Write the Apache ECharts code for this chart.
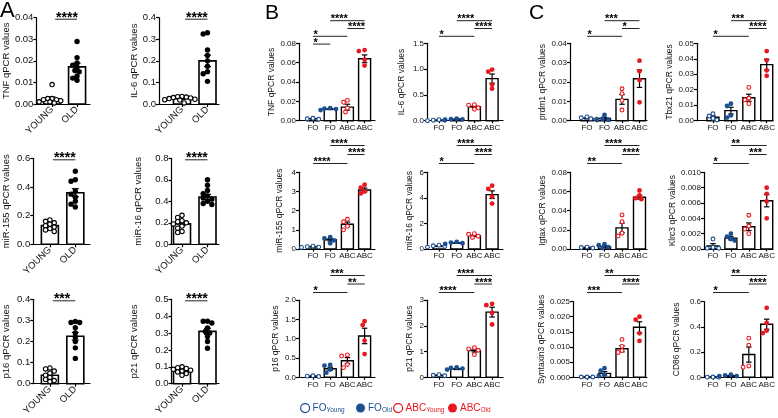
<!DOCTYPE html>
<html><head><meta charset="utf-8">
<script src="https://cdn.jsdelivr.net/npm/echarts@6/dist/echarts.min.js"></script>
<style>html,body{margin:0;padding:0;background:#fff}#c{width:778px;height:418px}</style>
</head><body><div id="c"></div>
<script>
// ---------- DATA ----------
const A_groups = ['YOUNG', 'OLD'];
const BC_groups = ['FO', 'FO', 'ABC', 'ABC'];
const BC_series = ['FO_Young', 'FO_Old', 'ABC_Young', 'ABC_Old'];

// Panel A
const A_TNF_pts = [[0.009,0.0025,0.0025,0.002,0.002,0.0015,0.001,0.001,0.0005],[0.029,0.0215,0.019,0.018,0.017,0.0155,0.015,0.013,0.012,0.011]];
const A_TNF_mean = [0.0023, 0.0172]; const A_TNF_sem = [0.0009, 0.0017];
const A_TNF_ticks = ['0.00','0.01','0.02','0.03','0.04'];
const A_TNF_sig = [[0,1,'****',0]];

const A_IL6_pts = [[0.035,0.034,0.032,0.03,0.028,0.025,0.022,0.02,0.018,0.005],[0.33,0.325,0.25,0.225,0.2,0.175,0.15,0.14,0.105]];
const A_IL6_mean = [0.025, 0.2]; const A_IL6_sem = [0.003, 0.026];
const A_IL6_ticks = ['0.0','0.1','0.2','0.3','0.4'];
const A_IL6_sig = [[0,1,'****',0]];

const A_miR155_pts = [[0.17,0.16,0.15,0.14,0.13,0.12,0.11,0.1,0.09],[0.51,0.45,0.44,0.37,0.35,0.33,0.3,0.28,0.26]];
const A_miR155_mean = [0.13, 0.36]; const A_miR155_sem = [0.01, 0.028];
const A_miR155_ticks = ['0.0','0.2','0.4','0.6'];
const A_miR155_sig = [[0,1,'****',0]];

const A_miR16_pts = [[0.27,0.25,0.22,0.21,0.2,0.19,0.17,0.15,0.12,0.11],[0.6,0.55,0.5,0.47,0.45,0.43,0.42,0.4,0.38,0.37]];
const A_miR16_mean = [0.19, 0.44]; const A_miR16_sem = [0.017, 0.024];
const A_miR16_ticks = ['0.0','0.2','0.4','0.6','0.8'];
const A_miR16_sig = [[0,1,'****',0]];

const A_p16_pts = [[0.075,0.07,0.06,0.05,0.04,0.03,0.02,0.015,0.01],[0.295,0.29,0.29,0.265,0.24,0.22,0.2,0.17,0.12]];
const A_p16_mean = [0.04, 0.225]; const A_p16_sem = [0.008, 0.018];
const A_p16_ticks = ['0.0','0.1','0.2','0.3','0.4'];
const A_p16_sig = [[0,1,'***',0]];

const A_p21_pts = [[0.1,0.095,0.09,0.085,0.08,0.075,0.07,0.06,0.05],[0.37,0.37,0.36,0.33,0.31,0.3,0.28,0.25,0.21]];
const A_p21_mean = [0.075, 0.31]; const A_p21_sem = [0.005, 0.018];
const A_p21_ticks = ['0.0','0.1','0.2','0.3','0.4','0.5'];
const A_p21_sig = [[0,1,'****',0]];

// Panel B
const B_TNF_pts = [[0.0025,0.0015,0.002],[0.013,0.012,0.0125,0.011],[0.021,0.019,0.013,0.009],[0.073,0.072,0.063,0.057]];
const B_TNF_mean = [0.002,0.012,0.014,0.064]; const B_TNF_sem = [0.0003,0.0005,0.003,0.004];
const B_TNF_ticks = ['0.00','0.02','0.04','0.06','0.08'];
const B_TNF_sig = [[1,3,'****',0],[2,3,'****',1],[0,2,'*',2],[0,1,'*',3]];

const B_IL6_pts = [[0.02,0.01,0.01,0.0],[0.04,0.03,0.025,0.02],[0.31,0.3,0.25,0.22],[0.99,0.95,0.7,0.62]];
const B_IL6_mean = [0.01,0.03,0.27,0.815]; const B_IL6_sem = [0.004,0.004,0.02,0.09];
const B_IL6_ticks = ['0.0','0.5','1.0','1.5'];
const B_IL6_sig = [[1,3,'****',0],[2,3,'****',1],[0,2,'*',2]];

const B_miR155_pts = [[0.15,0.12,0.1,0.08],[0.62,0.55,0.45,0.3],[1.55,1.42,1.18,1.0],[3.35,3.2,3.0,2.9]];
const B_miR155_mean = [0.12,0.48,1.29,3.08]; const B_miR155_sem = [0.015,0.07,0.12,0.1];
const B_miR155_ticks = ['0','1','2','3','4'];
const B_miR155_sig = [[1,3,'****',0],[2,3,'****',1],[0,2,'****',2]];

const B_miR16_pts = [[0.3,0.25,0.2,0.15],[0.55,0.5,0.45,0.4],[1.2,1.15,1.0,0.9],[4.95,4.7,4.1,3.55]];
const B_miR16_mean = [0.22,0.47,1.05,4.25]; const B_miR16_sem = [0.03,0.03,0.07,0.3];
const B_miR16_ticks = ['0','2','4','6'];
const B_miR16_sig = [[1,3,'****',0],[2,3,'****',1],[0,2,'*',2]];

const B_p16_pts = [[0.04,0.03,0.02],[0.32,0.3,0.2,0.12],[0.58,0.55,0.33,0.25],[1.45,1.35,0.95,0.6]];
const B_p16_mean = [0.03,0.22,0.43,1.07]; const B_p16_sem = [0.005,0.04,0.08,0.2];
const B_p16_ticks = ['0.0','0.5','1.0','1.5','2.0'];
const B_p16_sig = [[1,3,'***',0],[2,3,'**',1],[0,2,'*',2]];

const B_p21_pts = [[0.1,0.08,0.06],[0.38,0.36,0.34,0.3],[1.15,1.1,1.05,0.88],[2.85,2.8,2.5,2.05]];
const B_p21_mean = [0.08,0.32,1.04,2.53]; const B_p21_sem = [0.01,0.02,0.06,0.19];
const B_p21_ticks = ['0','1','2','3'];
const B_p21_sig = [[1,3,'****',0],[2,3,'****',1],[0,2,'****',2]];

// Panel C
const C_prdm1_pts = [[0.002,0.0015,0.001,0.0008],[0.003,0.001,0.0005,0.0003],[0.0165,0.014,0.0105,0.0055],[0.031,0.0255,0.021,0.0095]];
const C_prdm1_mean = [0.0012,0.0011,0.011,0.0217]; const C_prdm1_sem = [0.0003,0.0006,0.0025,0.0045];
const C_prdm1_ticks = ['0.00','0.01','0.02','0.03','0.04'];
const C_prdm1_sig = [[1,3,'***',0],[2,3,'*',1],[0,2,'*',2]];

const C_Tbx21_pts = [[0.0045,0.003,0.0015,0.0005],[0.011,0.0095,0.0035,0.002],[0.0215,0.0145,0.0135,0.011],[0.045,0.039,0.0325,0.029]];
const C_Tbx21_mean = [0.0022,0.0065,0.0148,0.0362]; const C_Tbx21_sem = [0.0009,0.0022,0.0023,0.0035];
const C_Tbx21_ticks = ['0.00','0.01','0.02','0.03','0.04','0.05'];
const C_Tbx21_sig = [[1,3,'***',0],[2,3,'****',1],[0,2,'*',2]];

const C_Igtax_pts = [[0.002,0.0015,0.001],[0.005,0.004,0.002,0.001],[0.0355,0.0285,0.0165,0.0135],[0.061,0.056,0.053,0.052]];
const C_Igtax_mean = [0.0015,0.0025,0.022,0.054]; const C_Igtax_sem = [0.0002,0.0009,0.005,0.002];
const C_Igtax_ticks = ['0.00','0.02','0.04','0.06','0.08'];
const C_Igtax_sig = [[1,3,'****',0],[2,3,'****',1],[0,2,'**',2]];

const C_Klrc3_pts = [[0.0013,0.0002,0.0001,0.0001],[0.002,0.0016,0.0013,0.0011],[0.0044,0.003,0.0026,0.002],[0.008,0.0072,0.0062,0.004]];
const C_Klrc3_mean = [0.0004,0.0014,0.0029,0.0063]; const C_Klrc3_sem = [0.0003,0.0002,0.0005,0.0008];
const C_Klrc3_ticks = ['0.000','0.002','0.004','0.006','0.008','0.010'];
const C_Klrc3_sig = [[1,3,'**',0],[2,3,'***',1],[0,2,'*',2]];

const C_Syntaxin3_pts = [[0.0001,0.0001,0.0001],[0.003,0.0022,0.0008,0.0004],[0.0125,0.0102,0.0088,0.0082],[0.02,0.019,0.0145,0.012]];
const C_Syntaxin3_mean = [0.0001,0.0013,0.0094,0.0165]; const C_Syntaxin3_sem = [0.00005,0.0006,0.001,0.0018];
const C_Syntaxin3_ticks = ['0.000','0.005','0.010','0.015','0.020','0.025'];
const C_Syntaxin3_sig = [[1,3,'**',0],[2,3,'****',1],[0,2,'***',2]];

const C_CD86_pts = [[0.002,0.001,0.001],[0.02,0.015,0.01,0.01],[0.31,0.255,0.09,0.08],[0.55,0.43,0.37,0.35]];
const C_CD86_mean = [0.002,0.012,0.18,0.42]; const C_CD86_sem = [0.0005,0.003,0.06,0.04];
const C_CD86_ticks = ['0.0','0.2','0.4','0.6'];
const C_CD86_sig = [[1,3,'**',0],[2,3,'****',1],[0,2,'*',2]];

// ---------- LAYOUT (pixels) ----------
const FONT = '"Liberation Sans", Arial, Helvetica, sans-serif';
const BLUE = '#1c4f91', RED = '#e8161d';
const R1 = {s0: 22.6, st: 7.8}, R2 = {s0: 26.8, st: 9}, R3 = {s0: 24.5, st: 8.5}, R3c = {s0: 26, st: 8.5};
const panels = [
 {kind:'A', title:'TNF qPCR values', pts:A_TNF_pts, mean:A_TNF_mean, sem:A_TNF_sem, ticks:A_TNF_ticks, sig:A_TNF_sig, L:{ax:32, c0:49, sp:27, end:90, top:17.7, bot:104, nameX:5}},
 {kind:'A', title:'IL-6 qPCR values', pts:A_IL6_pts, mean:A_IL6_mean, sem:A_IL6_sem, ticks:A_IL6_ticks, sig:A_IL6_sig, L:{ax:159, c0:182, sp:25.5, end:219, top:17.7, bot:104, nameX:137}},
 {kind:'A', title:'miR-155 qPCR values', pts:A_miR155_pts, mean:A_miR155_mean, sem:A_miR155_sem, ticks:A_miR155_ticks, sig:A_miR155_sig, L:{ax:32, c0:49, sp:26, end:90, top:158.3, bot:244.3, nameX:5}},
 {kind:'A', title:'miR-16 qPCR values', pts:A_miR16_pts, mean:A_miR16_mean, sem:A_miR16_sem, ticks:A_miR16_ticks, sig:A_miR16_sig, L:{ax:171.5, c0:182, sp:25.5, end:219, top:158.3, bot:244.3, nameX:138.5}},
 {kind:'A', title:'p16 qPCR values', pts:A_p16_pts, mean:A_p16_mean, sem:A_p16_sem, ticks:A_p16_ticks, sig:A_p16_sig, L:{ax:32, c0:49, sp:26, end:90, top:299.3, bot:386.7, nameX:5}},
 {kind:'A', title:'p21 qPCR values', pts:A_p21_pts, mean:A_p21_mean, sem:A_p21_sem, ticks:A_p21_ticks, sig:A_p21_sig, L:{ax:171.5, c0:182, sp:25.5, end:219, top:299.3, bot:386.7, nameX:135}},

 {kind:'B', title:'TNF qPCR values', pts:B_TNF_pts, mean:B_TNF_mean, sem:B_TNF_sem, ticks:B_TNF_ticks, sig:B_TNF_sig, L:{ax:299, c0:313, sp:17.2, end:375, top:43.3, bot:120.7, nameX:272, S:R1}},
 {kind:'B', title:'IL-6 qPCR values', pts:B_IL6_pts, mean:B_IL6_mean, sem:B_IL6_sem, ticks:B_IL6_ticks, sig:B_IL6_sig, L:{ax:427, c0:439, sp:17.7, end:503, top:43.3, bot:120.7, nameX:401.5, S:R1}},
 {kind:'B', title:'prdm1 qPCR values', pts:C_prdm1_pts, mean:C_prdm1_mean, sem:C_prdm1_sem, ticks:C_prdm1_ticks, sig:C_prdm1_sig, L:{ax:570, c0:587, sp:17.5, end:647, top:43.3, bot:120.7, nameX:544, S:R1}},
 {kind:'B', title:'Tbx21 qPCR values', pts:C_Tbx21_pts, mean:C_Tbx21_mean, sem:C_Tbx21_sem, ticks:C_Tbx21_ticks, sig:C_Tbx21_sig, L:{ax:697, c0:713, sp:17.9, end:773, top:43.3, bot:120.7, nameX:677, S:R1}},

 {kind:'B', title:'miR-155 qPCR values', pts:B_miR155_pts, mean:B_miR155_mean, sem:B_miR155_sem, ticks:B_miR155_ticks, sig:B_miR155_sig, L:{ax:299, c0:313, sp:17.2, end:375, top:172.3, bot:249, nameX:280, S:R2}},
 {kind:'B', title:'miR-16 qPCR values', pts:B_miR16_pts, mean:B_miR16_mean, sem:B_miR16_sem, ticks:B_miR16_ticks, sig:B_miR16_sig, L:{ax:427, c0:439, sp:17.7, end:503, top:172.3, bot:249, nameX:410, S:R2}},
 {kind:'B', title:'Igtax qPCR values', pts:C_Igtax_pts, mean:C_Igtax_mean, sem:C_Igtax_sem, ticks:C_Igtax_ticks, sig:C_Igtax_sig, L:{ax:570, c0:587, sp:17.5, end:647, top:172.3, bot:249, nameX:544, S:R2}},
 {kind:'B', title:'Klrc3 qPCR values', pts:C_Klrc3_pts, mean:C_Klrc3_mean, sem:C_Klrc3_sem, ticks:C_Klrc3_ticks, sig:C_Klrc3_sig, L:{ax:704, c0:713, sp:17.9, end:773, top:172.3, bot:249, nameX:677, S:R2}},

 {kind:'B', title:'p16 qPCR values', pts:B_p16_pts, mean:B_p16_mean, sem:B_p16_sem, ticks:B_p16_ticks, sig:B_p16_sig, L:{ax:299, c0:313, sp:17.2, end:375, top:300, bot:377.3, nameX:276, S:R3}},
 {kind:'B', title:'p21 qPCR values', pts:B_p21_pts, mean:B_p21_mean, sem:B_p21_sem, ticks:B_p21_ticks, sig:B_p21_sig, L:{ax:427, c0:439, sp:17.7, end:503, top:300, bot:377.3, nameX:410, S:R3}},
 {kind:'B', title:'Syntaxin3 qPCR values', pts:C_Syntaxin3_pts, mean:C_Syntaxin3_mean, sem:C_Syntaxin3_sem, ticks:C_Syntaxin3_ticks, sig:C_Syntaxin3_sig, L:{ax:573, c0:587, sp:17.5, end:647, top:301.5, bot:377.3, nameX:543, S:R3c}},
 {kind:'B', title:'CD86 qPCR values', pts:C_CD86_pts, mean:C_CD86_mean, sem:C_CD86_sem, ticks:C_CD86_ticks, sig:C_CD86_sig, L:{ax:704, c0:713, sp:17.9, end:773, top:301.5, bot:377.3, nameX:677, S:R3c}}
];

function swarm(ys, r, tight) {
  const offs = new Array(ys.length).fill(0);
  const placed = [];
  const d = 2 * r * tight;
  const order = ys.map((y, i) => i).sort((a, b) => ys[a] - ys[b]);
  for (const i of order) {
    let chosen = 0;
    for (let k = 0; k < 40; k++) {
      const o = k === 0 ? 0 : (k % 2 ? -1 : 1) * Math.ceil(k / 2) * r * 0.8;
      let ok = true;
      for (const q of placed) {
        const dx = o - q.x, dy = ys[i] - q.y;
        if (dx * dx + dy * dy < d * d) { ok = false; break; }
      }
      if (ok) { chosen = o; break; }
    }
    offs[i] = chosen;
    placed.push({x: chosen, y: ys[i]});
  }
  return offs;
}

const grids = [], xAxes = [], yAxes = [], series = [];
panels.forEach((p, i) => {
  const L = p.L, isA = p.kind === 'A';
  const groups = isA ? A_groups : BC_groups;
  const cats = groups.map((_, k) => k);
  const tv = p.ticks.map(Number);
  const step = tv[1] - tv[0];
  const tickFS = isA ? 9.5 : 8;
  const nameFS = isA ? 9.5 : 8.5;
  const barW = isA ? 17 : 12, capW = isA ? 7 : 5.5, R = isA ? 2.7 : 2.4;
  grids.push({left: L.ax, top: L.top, width: L.end - L.ax, height: L.bot - L.top});
  xAxes.push({gridIndex: i, type: 'value', min: -(L.c0 - L.ax) / L.sp, max: (L.end - L.c0) / L.sp,
    axisLine: {show: true, onZero: false, lineStyle: {color: '#000', width: 1.2}},
    axisTick: {show: true, customValues: cats, length: isA ? 3 : 2.5, lineStyle: {color: '#000', width: 1.2}},
    axisLabel: {show: true, customValues: cats, formatter: v => groups[Math.round(v)] || '', rotate: isA ? 45 : 0,
      fontSize: isA ? 9.5 : 8, color: '#111', margin: isA ? 4 : 3, fontFamily: FONT},
    splitLine: {show: false}});
  yAxes.push({gridIndex: i, type: 'value', min: tv[0], max: tv[tv.length - 1], interval: step,
    axisLine: {show: true, onZero: false, lineStyle: {color: '#000', width: 1.2}},
    axisTick: {show: true, length: 3, lineStyle: {color: '#000', width: 1.2}},
    axisLabel: {fontSize: tickFS, color: '#111', margin: 3, fontFamily: FONT,
      formatter: v => { const k = tv.findIndex(t => Math.abs(t - v) < step * 1e-6); return k >= 0 ? p.ticks[k] : ''; }},
    splitLine: {show: false},
    name: p.title, nameLocation: 'middle', nameGap: L.ax - L.nameX - nameFS / 2,
    nameTextStyle: {fontSize: nameFS, color: '#111', fontFamily: FONT}});

  // bars + error bars
  series.push({type: 'custom', xAxisIndex: i, yAxisIndex: i, silent: true, z: 2,
    data: p.mean.map((m, k) => [k, m, p.sem[k]]),
    renderItem: (params, api) => {
      const k = api.value(0), m = api.value(1), s = api.value(2);
      const base = api.coord([k, 0]);
      const x = base[0], y0 = base[1];
      const ym = api.coord([k, m])[1], yh = api.coord([k, m + s])[1], yl = api.coord([k, Math.max(0, m - s)])[1];
      const ls = {stroke: '#000', lineWidth: 1.2};
      return {type: 'group', children: [
        {type: 'rect', shape: {x: x - barW / 2, y: ym, width: barW, height: Math.max(0.5, y0 - ym)}, style: {fill: '#fff', stroke: '#000', lineWidth: isA ? 1.6 : 1.4}},
        {type: 'line', shape: {x1: x, y1: yl, x2: x, y2: yh}, style: ls},
        {type: 'line', shape: {x1: x - capW / 2, y1: yh, x2: x + capW / 2, y2: yh}, style: ls},
        {type: 'line', shape: {x1: x - capW / 2, y1: yl, x2: x + capW / 2, y2: yl}, style: ls}
      ]};
    }});

  // points
  p.pts.forEach((vals, k) => {
    const col = isA ? '#000' : (k < 2 ? BLUE : RED);
    const open = isA ? k === 0 : (k % 2 === 0);
    series.push({type: 'custom', name: isA ? A_groups[k] : BC_series[k], xAxisIndex: i, yAxisIndex: i, z: 4, silent: true,
      itemStyle: {color: col},
      data: vals.map(v => [k, v]),
      renderItem: (params, api) => {
        const cx = api.coord([k, 0])[0];
        const ys = vals.map(v => api.coord([k, v])[1]);
        const offs = swarm(ys, R, isA ? 0.72 : 0.85);
        const j = params.dataIndex;
        return {type: 'circle', shape: {cx: cx + offs[j], cy: ys[j], r: open ? R - 0.5 : R},
          style: {fill: open ? '#fff' : col, stroke: col, lineWidth: open ? 1.1 : 0}};
      }});
  });

  // significance brackets
  series.push({type: 'custom', xAxisIndex: i, yAxisIndex: i, z: 5, silent: true, clip: false,
    data: p.sig.map((s, j) => [s[0], 0, j]),
    renderItem: (params, api) => {
      const s = p.sig[params.dataIndex];
      const x1 = api.coord([s[0], 0])[0], x2 = api.coord([s[1], 0])[0];
      const top = params.coordSys.y;
      const y = isA ? top + 1.5 : top - L.S.s0 + s[3] * L.S.st;
      return {type: 'group', children: [
        {type: 'line', shape: {x1: x1 + (isA ? 3 : 0), y1: y, x2: x2, y2: y}, style: {stroke: '#222', lineWidth: 1}},
        {type: 'text', x: x1 + (isA ? 4 : 0.5), y: y - 1.5, style: {text: s[2], fontSize: isA ? 14 : 11, fontWeight: 'bold',
          fontFamily: FONT, fill: '#000', align: 'left', verticalAlign: 'middle'}}
      ]};
    }});
});

const legendX = [300, 356, 393, 448];
const legends = BC_series.map((nm, k) => {
  const col = k < 2 ? BLUE : RED, open = k % 2 === 0;
  return {left: legendX[k], top: 403, itemWidth: 9, itemHeight: 9, itemGap: 0, selectedMode: false, padding: 0,
    data: [{name: nm, icon: 'circle', itemStyle: open ? {color: '#fff', borderColor: col, borderWidth: 1.2} : {color: col, borderWidth: 0}}],
    formatter: n => { const a = n.split('_'); return '{m|' + a[0] + '}{s|' + a[1] + '}'; },
    textStyle: {fontFamily: FONT, padding: [0, 0, 0, -2], rich: {
      m: {fontSize: 10, color: col, fontFamily: FONT, lineHeight: 12},
      s: {fontSize: 6.5, color: col, fontFamily: FONT, verticalAlign: 'bottom', lineHeight: 6}}}};
});

const option = {
  animation: false,
  backgroundColor: '#fff',
  textStyle: {fontFamily: FONT},
  grid: grids, xAxis: xAxes, yAxis: yAxes, series: series, legend: legends,
  graphic: [
    {type: 'text', left: 0, top: 0, style: {text: 'A', fontSize: 22, fontFamily: FONT, fill: '#000'}},
    {type: 'text', left: 265, top: 3, style: {text: 'B', fontSize: 21, fontFamily: FONT, fill: '#000'}},
    {type: 'text', left: 529, top: 3, style: {text: 'C', fontSize: 21, fontFamily: FONT, fill: '#000'}}
  ]
};
const chart = echarts.init(document.getElementById('c'), null, {renderer: 'canvas'});
chart.setOption(option);
</script></body></html>
